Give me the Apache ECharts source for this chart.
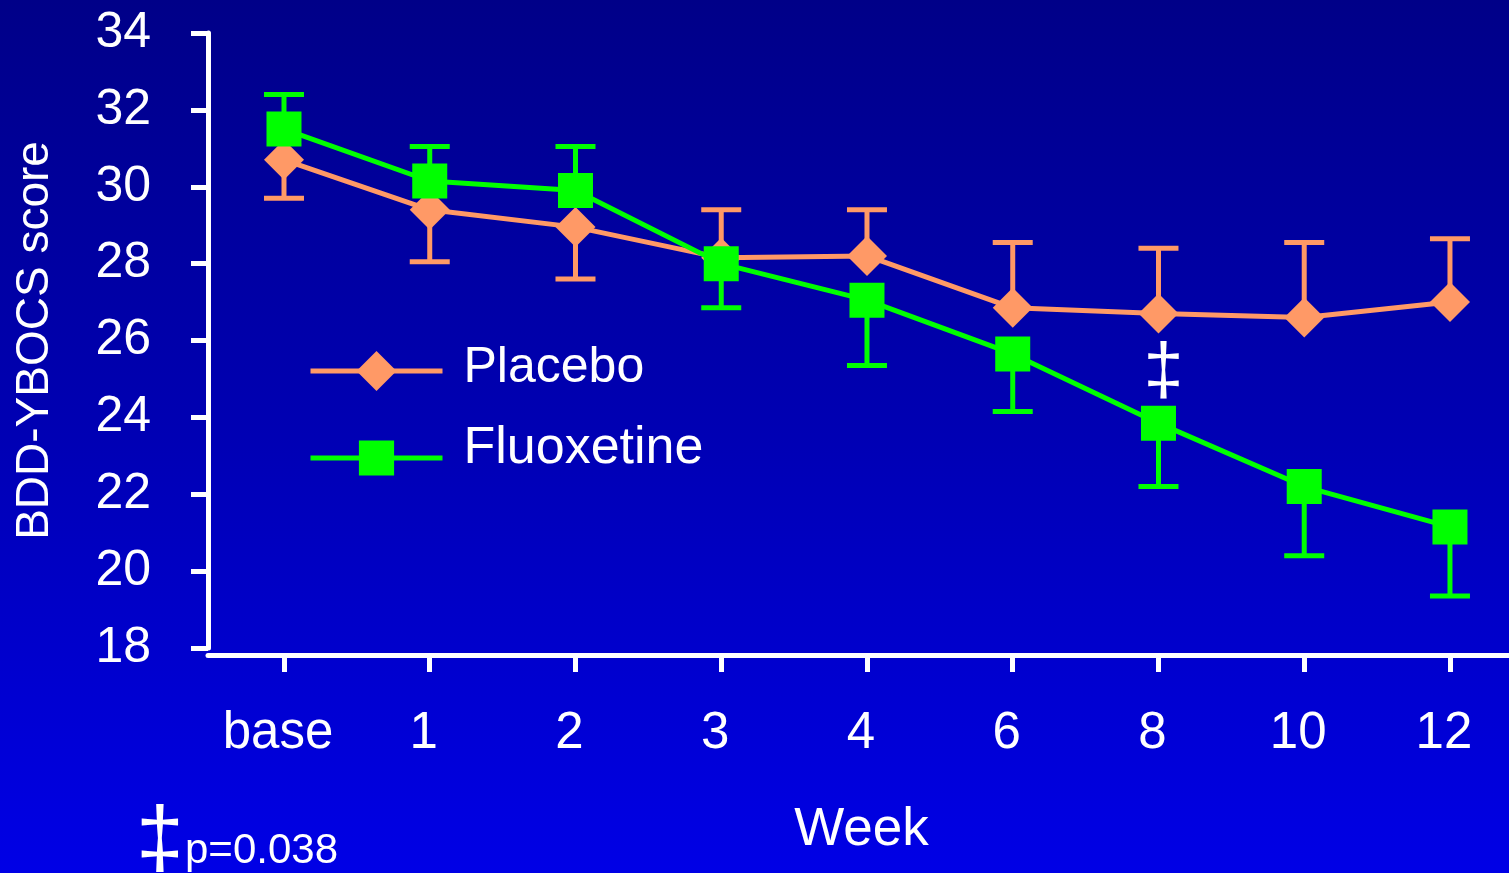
<!DOCTYPE html>
<html>
<head>
<meta charset="utf-8">
<script src="https://cdn.jsdelivr.net/npm/echarts@6/dist/echarts.min.js"></script>
<style>
  html, body { margin: 0; padding: 0; }
  #chart {
    width: 1509px; height: 873px;
    background: linear-gradient(to bottom, #000088 0%, #0000B4 50%, #0000E6 100%);
  }
</style>
</head>
<body>
<div id="chart"></div>
<script>
// Week labels along the x axis
const weeks = ['base', '1', '2', '3', '4', '6', '8', '10', '12'];

// Mean BDD-YBOCS scores per visit
const placebo = [30.7, 29.4, 28.95, 28.15, 28.2, 26.85, 26.7, 26.6, 27.0];
const fluoxetine = [31.5, 30.15, 29.9, 28.0, 27.05, 25.65, 23.85, 22.2, 21.15];

// Where each one-sided error bar ends
const placeboErrEnd = [29.7, 28.05, 27.6, 29.4, 29.4, 28.55, 28.4, 28.55, 28.65];
const fluoxetineErrEnd = [32.4, 31.05, 31.05, 26.85, 25.35, 24.15, 22.2, 20.4, 19.35];

// Y axis scale
const yMin = 18, yMax = 34, yStep = 2;

// Visit flagged as significant
const flaggedWeek = '8';
const flagMark = '\u2021';
const footnote = 'p=0.038';

const FONT = '"Liberation Sans", Arial, Helvetica, sans-serif';
const ORANGE = '#FF9966';
const GREEN = '#00FF00';

// Visits sit at positions 0..n-1 on the x axis
const visitIdx = weeks.map((w, i) => i);
const pairs = (vals) => vals.map((v, i) => [i, v]);

const chart = echarts.init(document.getElementById('chart'), null, { renderer: 'canvas' });

function errorBarSeries(name, means, ends, color) {
  return {
    type: 'custom',
    name: name + ' error',
    z: 1,
    silent: true,
    data: means.map((m, i) => [i, m, ends[i]]),
    encode: { x: 0, y: [1, 2] },
    renderItem(params, api) {
      const i = api.value(0);
      const p0 = api.coord([i, api.value(1)]);
      const p1 = api.coord([i, api.value(2)]);
      const half = 20;
      const style = { stroke: color, lineWidth: 5 };
      return {
        type: 'group',
        children: [
          { type: 'line', shape: { x1: p0[0], y1: p0[1], x2: p1[0], y2: p1[1] }, style },
          { type: 'line', shape: { x1: p1[0] - half, y1: p1[1], x2: p1[0] + half, y2: p1[1] }, style }
        ]
      };
    }
  };
}

// Legend entry text, lifted a little above the icon's centre line
function legendEntry(name, top, itemHeight, lift, size) {
  return {
    data: [name],
    left: 308, top: top, padding: 0,
    itemWidth: 132, itemHeight: itemHeight,
    lineStyle: { width: 5 },
    selectedMode: false,
    formatter: (n) => '{t|' + n + '}',
    textStyle: {
      color: '#FFFFFF',
      rich: {
        t: {
          color: '#FFFFFF', fontSize: size, fontFamily: FONT, lineHeight: 50,
          padding: [0, 0, lift * 2, 16]
        }
      }
    }
  };
}

chart.setOption({
  animation: false,
  backgroundColor: 'transparent',
  grid: { left: 208, top: 33, right: 0, height: 615, containLabel: false },
  legend: [
    legendEntry('Placebo', 343, 50, 3, 50),
    legendEntry('Fluoxetine', 423, 44, 9, 52)
  ],
  xAxis: {
    type: 'value',
    min: -0.5214,
    max: 8.405,
    offset: 7,
    name: 'Week',
    nameLocation: 'middle',
    nameGap: 149,
    nameTextStyle: { color: '#FFFFFF', fontSize: 53, fontFamily: FONT, padding: [0, 0, 0, 6] },
    axisLine: { show: true, onZero: false, lineStyle: { color: '#FFFFFF', width: 5 } },
    axisTick: { show: true, customValues: visitIdx, length: 17, lineStyle: { color: '#FFFFFF', width: 5 } },
    axisLabel: {
      customValues: visitIdx,
      formatter: (v) => weeks[Math.round(v)],
      color: '#FFFFFF', fontSize: 51, fontFamily: FONT, margin: 54, lineHeight: 50,
      padding: [0, 12, 0, 0]
    },
    splitLine: { show: false }
  },
  yAxis: {
    type: 'value',
    min: yMin, max: yMax, interval: yStep,
    name: 'BDD-YBOCS score',
    nameLocation: 'middle',
    nameGap: 150,
    nameRotate: 90,
    nameTextStyle: { color: '#FFFFFF', fontSize: 46, fontFamily: FONT },
    axisLine: { show: true, onZero: false, lineStyle: { color: '#FFFFFF', width: 5 } },
    axisTick: { show: true, length: 17, lineStyle: { color: '#FFFFFF', width: 5 } },
    axisLabel: { color: '#FFFFFF', fontSize: 50, fontFamily: FONT, margin: 57, lineHeight: 50, padding: [0, 0, 14, 0] },
    splitLine: { show: false }
  },
  graphic: [
    { type: 'text', left: 136, top: 799, style: { text: flagMark, fill: '#FFFFFF', font: '86px ' + FONT } },
    { type: 'text', left: 185, top: 830, style: { text: footnote, fill: '#FFFFFF', font: '42px ' + FONT } }
  ],
  series: [
    errorBarSeries('Placebo', placebo, placeboErrEnd, ORANGE),
    errorBarSeries('Fluoxetine', fluoxetine, fluoxetineErrEnd, GREEN),
    {
      type: 'line',
      name: 'Placebo',
      data: pairs(placebo),
      z: 2,
      symbol: 'diamond',
      symbolSize: [40, 40],
      showAllSymbol: true,
      lineStyle: { color: ORANGE, width: 5 },
      itemStyle: { color: ORANGE }
    },
    {
      type: 'line',
      name: 'Fluoxetine',
      z: 3,
      data: fluoxetine.map((v, i) => weeks[i] === flaggedWeek
        ? {
            value: [i, v],
            label: {
              show: true, position: 'top', distance: 0, offset: [5, 3],
              formatter: flagMark,
              color: '#FFFFFF', fontSize: 72, fontFamily: FONT, lineHeight: 72
            }
          }
        : [i, v]),
      symbol: 'rect',
      symbolSize: [35, 35],
      showAllSymbol: true,
      lineStyle: { color: GREEN, width: 5 },
      itemStyle: { color: GREEN }
    }
  ]
});
</script>
</body>
</html>
